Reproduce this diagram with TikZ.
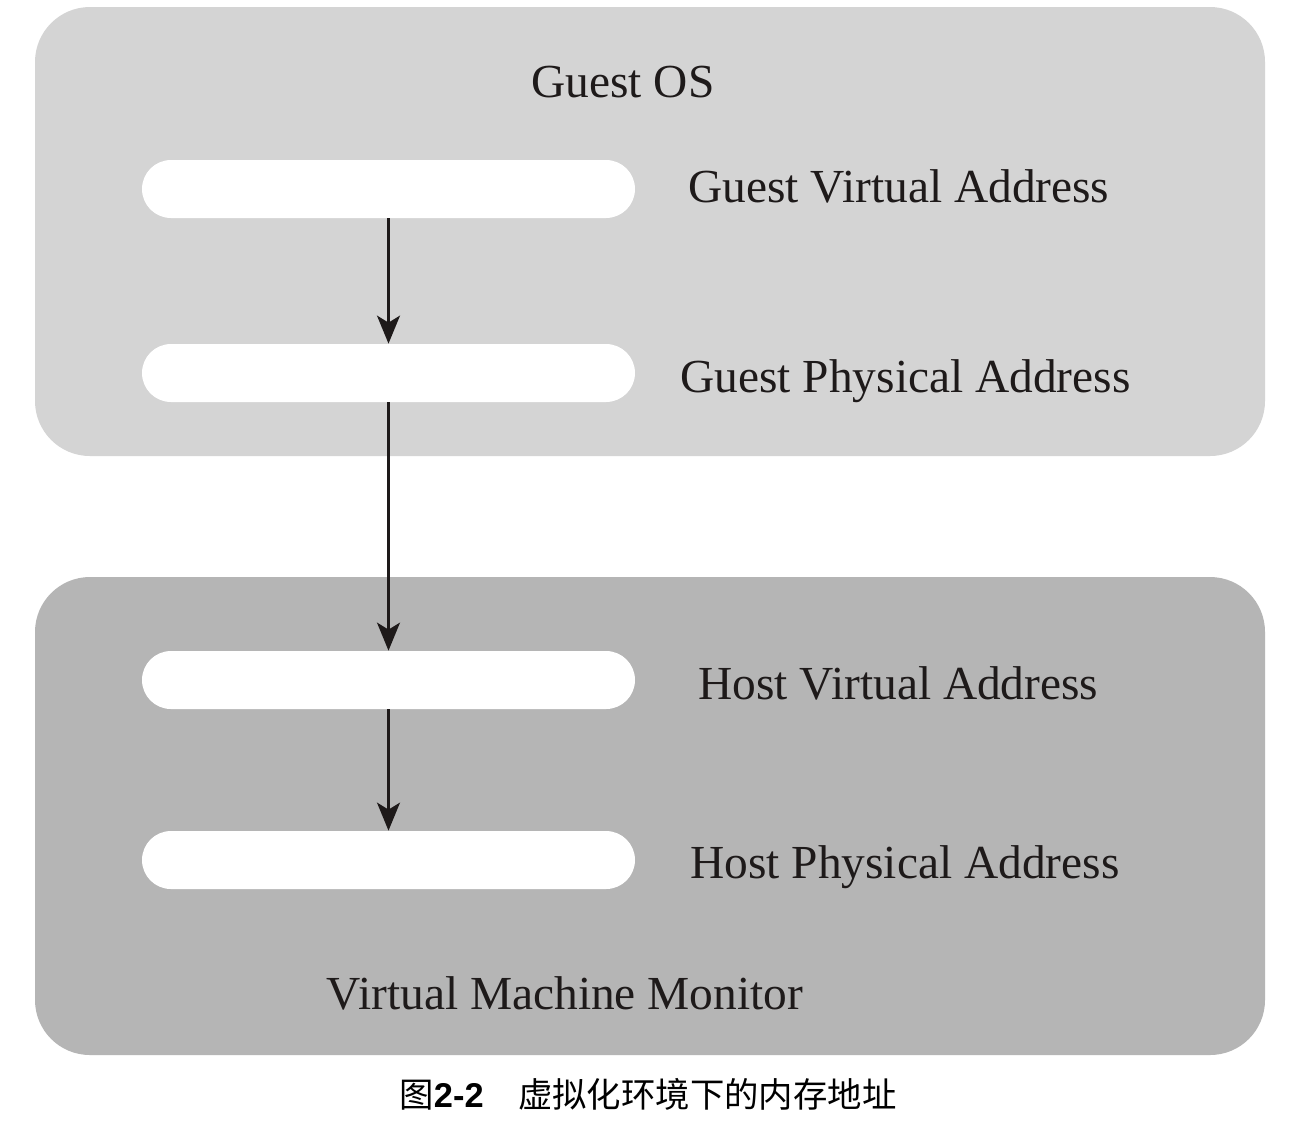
\documentclass[tikz,border=0pt]{standalone}
\usepackage{fontspec}
\setmainfont{Liberation Serif}
\newfontfamily\cjk{Noto Sans CJK SC}
\newfontfamily\capsans{Liberation Sans}
\usetikzlibrary{arrows.meta}
\definecolor{guestgray}{HTML}{D4D4D4}
\definecolor{hostgray}{HTML}{B5B5B5}
\definecolor{txt}{HTML}{1E1A1A}
\tikzset{
  panel/.style={fill=#1, draw=none, rounded corners=27.5pt, inner sep=0pt},
  pill/.style={fill=white, draw=none, rounded corners=14.5pt, minimum width=246.5pt, minimum height=29pt, inner sep=0pt},
  lbl/.style={anchor=base west, inner sep=0pt, text=txt, font=\fontsize{23.7}{28}\selectfont},
  ttl/.style={anchor=base, inner sep=0pt, text=txt, font=\fontsize{23.7}{28}\selectfont},
  conn/.style={draw=txt, line width=1.1pt, -{Stealth[length=14pt,width=11.5pt,inset=3.5pt]}}
}
\begin{document}
\begin{tikzpicture}[x=0.5pt,y=-0.5pt]
\useasboundingbox[fill=white] (0,0) rectangle (1300,1132);
\node[panel=guestgray, minimum width=615pt, minimum height=224.5pt] (guest) at (650,231.5) {};
\node[panel=hostgray, minimum width=615pt, minimum height=239pt] (host) at (650,816) {};
\node[ttl] (gos) at (623,97) {Guest OS};
\node[pill] (p1) at (388.5,189) {};
\node[pill] (p2) at (388.5,373) {};
\node[pill] (p3) at (388.5,680) {};
\node[pill] (p4) at (388.5,860) {};
\node[lbl] (l1) at (688,202) {Guest Virtual Address};
\node[lbl] (l2) at (680,392) {Guest Physical Address};
\node[lbl] (l3) at (698,699) {Host Virtual Address};
\node[lbl] (l4) at (690,878) {Host Physical Address};
\node[ttl] (vmm) at (565,1009) {Virtual Machine Monitor};
\draw[conn] (p1.south) -- (p2.north);
\draw[conn] (p2.south) -- (p3.north);
\draw[conn] (p3.south) -- (p4.north);
\node[inner sep=0pt, font=\fontsize{17.2}{20}\selectfont] (cap) at (648,1094) {\cjk 图{\capsans\bfseries 2-2}\hspace{1em}虚拟化环境下的内存地址};
\end{tikzpicture}
\end{document}
